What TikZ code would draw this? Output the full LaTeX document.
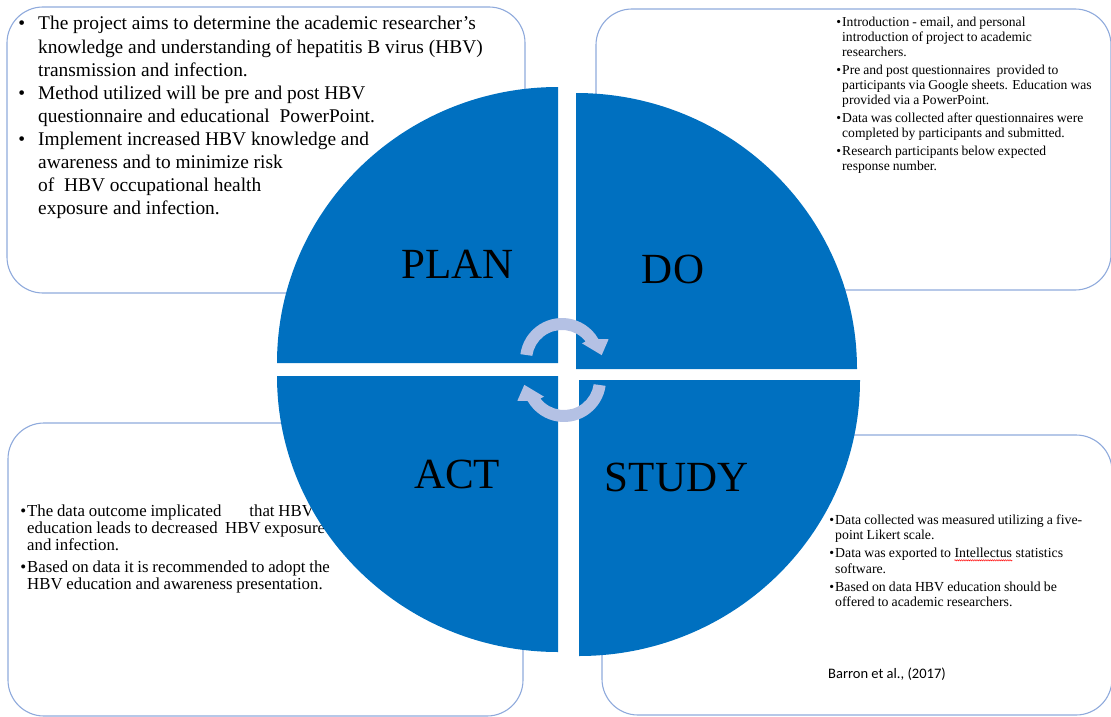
\documentclass[tikz,border=0pt]{standalone}
\usepackage{fontspec}
\setmainfont{Liberation Serif}
\newfontfamily\notefont{Liberation Serif}[WordSpace=0.9]
\newfontfamily\citefont{Carlito}
\usetikzlibrary{decorations.pathmorphing}
\definecolor{pdcablue}{RGB}{0,112,192}
\definecolor{boxline}{RGB}{143,170,220}
\definecolor{cyclegray}{RGB}{180,193,228}
\def\bigbul{\llap{\textbullet\hspace{13pt}}}
\def\smallbul{\llap{\textbullet\hspace{1pt}}}
% red wavy line under a word
\newcommand\redwave[1]{\tikz[baseline=(w.base)]{\node[inner sep=0pt] (w) {#1};
    \draw[red,line width=0.45pt,decorate,decoration={snake,amplitude=0.7pt,segment length=2.2pt}]
        ([yshift=-2.6pt]w.base west) -- ([yshift=-2.6pt]w.base east);}}

\begin{document}
\begin{tikzpicture}[x=1pt,y=-1pt,
    box/.style={draw=boxline,line width=1.1pt,rounded corners=36pt},
    note/.style={anchor=north west,inner sep=0pt,align=left},
    phase/.style={anchor=base,inner sep=0pt,font=\fontsize{43}{43}\selectfont}]
    \useasboundingbox (0,0) rectangle (1111,717);

    % the four text boxes
    \draw[box] (7,7) rectangle (525,293);
    \draw[box] (596,9) rectangle (1111,290);
    \draw[box] (8,423) rectangle (523,716);
    \draw[box] (602,435) rectangle (1112,715);

    \node[note,font=\fontsize{19.4}{23.1}\selectfont] (PLT) at (38,16.3) {%
        \bigbul The project aims to determine the academic researcher’s\\
        knowledge and understanding of hepatitis B virus (HBV)\\
        transmission and infection.\\
        \bigbul Method utilized will be pre and post HBV\\
        questionnaire and educational\ \ PowerPoint.\\
        \bigbul Implement increased HBV knowledge and\\
        awareness and to minimize risk\\
        of\ \ HBV occupational health\\
        exposure and infection.};

    \node[note,font=\notefont\fontsize{13.6}{15}\selectfont] (DOT) at (842,17.2) {%
        \smallbul Introduction - email, and personal\\
        introduction of project to academic\\
        researchers.\\[3pt]
        \smallbul Pre and post questionnaires\ \ provided to\\
        participants via Google sheets. Education was\\
        provided via a PowerPoint.\\[3pt]
        \smallbul Data was collected after questionnaires were\\
        completed by participants and submitted.\\[3pt]
        \smallbul Research participants below expected\\
        response number.};

    \node[note,font=\notefont\fontsize{16.8}{17}\selectfont] (ACT) at (27,504.5) {%
        \smallbul The data outcome implicated\hspace{28pt}that HBV\\
        education leads to decreased\ \ HBV exposure\\
        and infection.\\[5pt]
        \smallbul Based on data it is recommended to adopt the\\
        HBV education and awareness presentation.};

    \node[note,font=\notefont\fontsize{13.8}{15.5}\selectfont] (STT) at (835,514.3) {%
        \smallbul Data collected was measured utilizing a five-\\
        point Likert scale.\\[2.5pt]
        \smallbul Data was exported to \redwave{Intellectus} statistics\\
        software.\\[2.5pt]
        \smallbul Based on data HBV education should be\\
        offered to academic researchers.};

    \node[anchor=base west,inner sep=0pt,font=\citefont\fontsize{14.5}{16}\selectfont] (REF) at (828,678)
        {Barron et al., (2017)};

    % pulled-apart quarters of the cycle
    \fill[pdcablue] (558,363) -- ++(-281,0) arc[start angle=180,end angle=270,x radius=281,y radius=276] -- cycle;
    \fill[pdcablue] (576,369) -- ++(0,-276) arc[start angle=270,end angle=360,x radius=281,y radius=276] -- cycle;
    \fill[pdcablue] (579,380) -- ++(281,0) arc[start angle=0,end angle=90,x radius=281,y radius=276] -- cycle;
    \fill[pdcablue] (558,376) -- ++(0,276) arc[start angle=90,end angle=180,x radius=281,y radius=276] -- cycle;

    \node[phase] (PL) at (457.5,278) {PLAN};
    \node[phase] (DO) at (673,283) {DO};
    \node[phase] (ST) at (676.5,491) {STUDY};
    \node[phase] (AC) at (457,488) {ACT};

    % turning arrows in the middle
    \begin{scope}[shift={(562,360)}]
        \fill[cyclegray] (188:42) arc[start angle=188,end angle=330,radius=42] -- (336:51) -- (353:40)
            -- (320:26) -- (322:30) arc[start angle=322,end angle=188,radius=30] -- cycle;
    \end{scope}
    \begin{scope}[shift={(564,380)},rotate=180]
        \fill[cyclegray] (188:42) arc[start angle=188,end angle=330,radius=42] -- (336:51) -- (353:40)
            -- (320:26) -- (322:30) arc[start angle=322,end angle=188,radius=30] -- cycle;
    \end{scope}
\end{tikzpicture}
\end{document}
